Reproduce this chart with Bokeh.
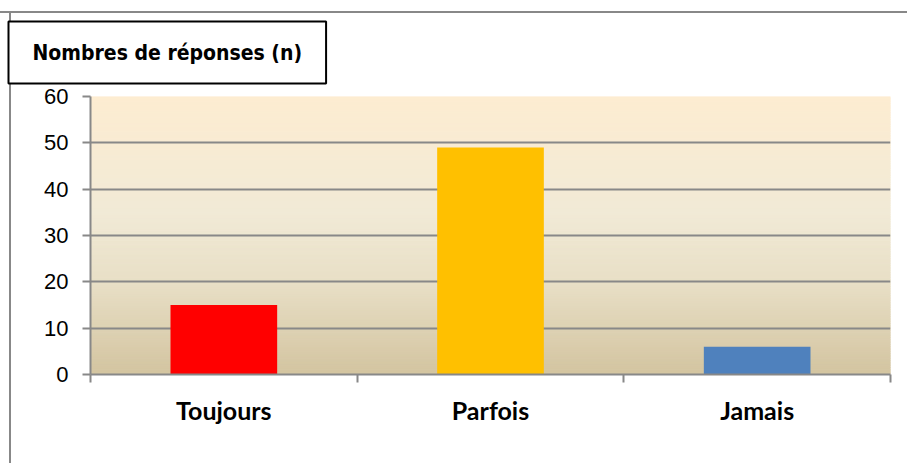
from bokeh.plotting import figure
from bokeh.models import Range1d, FixedTicker
from bokeh.embed import file_html
from bokeh.resources import INLINE
import numpy as np

categories = ["Toujours", "Parfois", "Jamais"]
values = [15, 49, 6]
bar_colors = ["#FF0000", "#FFC000", "#4F81BD"]
y_ticks = [0, 10, 20, 30, 40, 50, 60]
title_text = "Nombres de réponses (n)"

W, H = 907, 463
frame_css = ("linear-gradient(#888888,#888888) 0px 11px / 100% 2px no-repeat, "
             "linear-gradient(#888888,#888888) 9px 11px / 2px 100% no-repeat, white")
p = figure(width=W, height=H, output_backend="svg", toolbar_location=None,
           x_range=Range1d(0, len(categories)), y_range=Range1d(0, 60),
           min_border_left=90, min_border_right=17, min_border_top=96, min_border_bottom=89,
           styles={"background": frame_css})
p.outline_line_color = None
p.background_fill_color = None
p.border_fill_color = None

# title box
p.title.text = title_text
p.title.text_font = "DejaVu Sans Condensed"
p.title.text_font_size = "21px"
p.title.text_font_style = "bold"
p.title.text_color = "black"
p.title.border_line_color = "black"
p.title.border_line_width = 2
p.title.background_fill_color = "white"
p.title.padding = (24, 19)
p.title.align = "left"
p.title.offset = -82
p.title.standoff = 26

# gradient background strips
stops_y = [0, 20, 35, 60]
stops_c = [(0xD3, 0xC4, 0xA0), (0xE8, 0xDF, 0xC6), (0xF1, 0xEA, 0xD6), (0xFD, 0xEC, 0xD1)]
n = 120
edges = np.linspace(0, 60, n + 1)
mids = (edges[:-1] + edges[1:]) / 2
cols = []
for m in mids:
    rgb = [int(round(np.interp(m, stops_y, [c[k] for c in stops_c]))) for k in range(3)]
    cols.append("#%02x%02x%02x" % tuple(rgb))
p.quad(left=0, right=len(categories), bottom=edges[:-1], top=edges[1:],
       fill_color=cols, line_color=cols, line_width=1, level="image")

# gridlines
p.xgrid.visible = False
p.ygrid.ticker = FixedTicker(ticks=y_ticks)
p.ygrid.grid_line_color = "#888888"
p.ygrid.grid_line_width = 2
p.ygrid.level = "underlay"

xs = [i + 0.5 for i in range(len(categories))]
p.vbar(x=xs, top=values, width=0.4, fill_color=bar_colors, line_color=None)

# y axis
p.yaxis.ticker = FixedTicker(ticks=y_ticks)
p.yaxis.axis_line_color = "#888888"
p.yaxis.axis_line_width = 2
p.yaxis.major_tick_line_color = "#888888"
p.yaxis.major_tick_line_width = 2
p.yaxis.major_tick_out = 8
p.yaxis.major_tick_in = 0
p.yaxis.minor_tick_line_color = None
p.yaxis.major_label_text_font = "Liberation Sans"
p.yaxis.major_label_text_font_size = "22px"
p.yaxis.major_label_text_color = "black"
p.yaxis.major_label_standoff = 14

# x axis
p.xaxis.ticker = FixedTicker(ticks=xs, minor_ticks=list(range(len(categories) + 1)))
p.xaxis.major_label_overrides = {x: c for x, c in zip(xs, categories)}
p.xaxis.axis_line_color = "#888888"
p.xaxis.axis_line_width = 2
p.xaxis.major_tick_line_color = None
p.xaxis.major_tick_out = 0
p.xaxis.major_tick_in = 0
p.xaxis.minor_tick_line_color = "#888888"
p.xaxis.minor_tick_line_width = 2
p.xaxis.minor_tick_out = 8
p.xaxis.minor_tick_in = 0
p.xaxis.major_label_text_font = "Lato"
p.xaxis.major_label_text_font_style = "bold"
p.xaxis.major_label_text_font_size = "25px"
p.xaxis.major_label_text_color = "black"
p.xaxis.major_label_standoff = 12

open("out.html", "w").write(file_html(p, INLINE))
